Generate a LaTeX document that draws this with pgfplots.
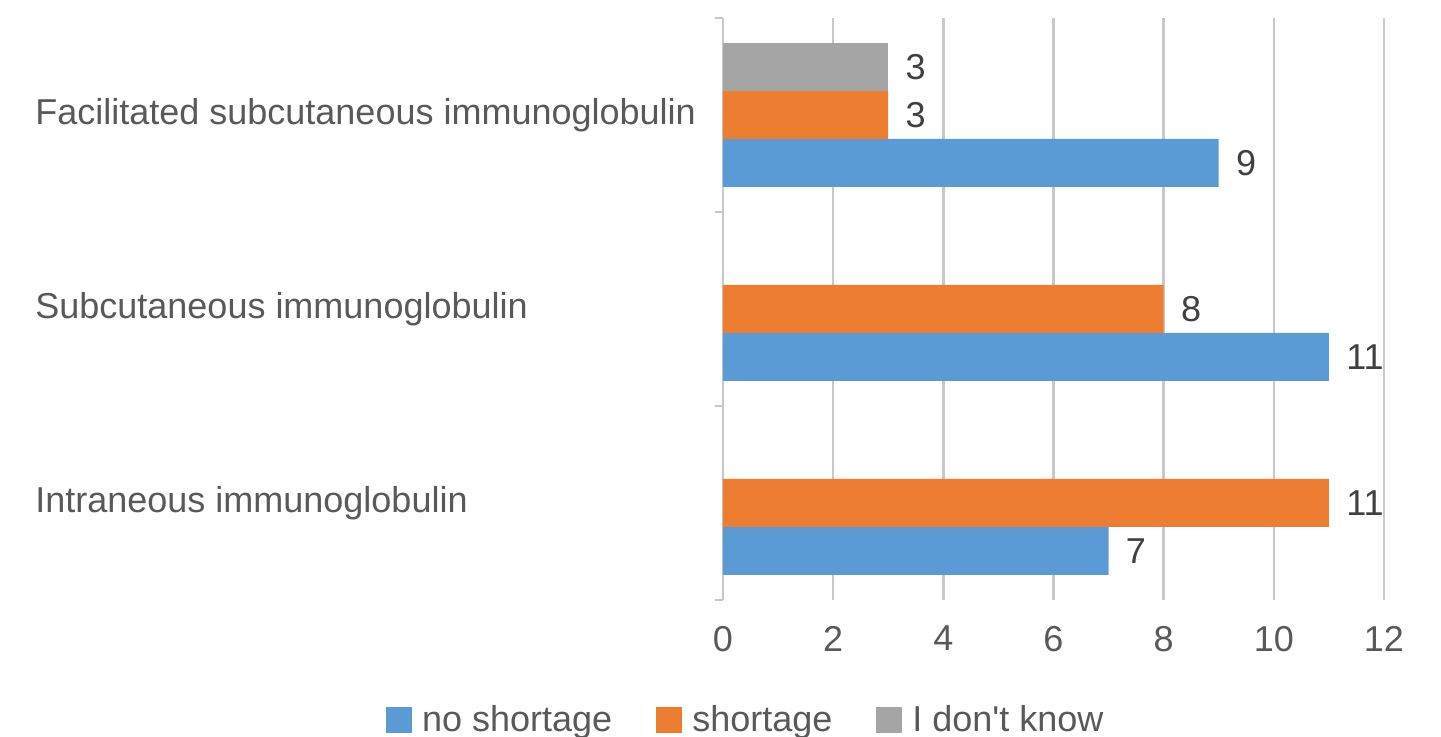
\documentclass[border=0pt]{standalone}
\usepackage{pgfplots}
\pgfplotsset{compat=1.18}
\usepackage{fontspec}
\setmainfont{Liberation Sans}
\definecolor{cblue}{HTML}{5B9BD5}
\definecolor{corange}{HTML}{ED7D31}
\definecolor{cgray}{HTML}{A5A5A5}
\definecolor{txt}{HTML}{595959}
\definecolor{valtxt}{HTML}{404040}
\definecolor{gridc}{HTML}{C8C8C8}
\newcommand{\chartfont}{\fontsize{18}{21.6}\selectfont}
\begin{document}
\begin{tikzpicture}
\useasboundingbox (-361.5pt,-68.5pt) rectangle (359pt,300pt);
\clip (-361.5pt,-68.5pt) rectangle (359pt,300pt);
\begin{axis}[
  at={(0pt,0pt)}, anchor=south west,
  scale only axis, width=330.5pt, height=291pt,
  xbar, bar width=24pt,
  xmin=0, xmax=12, ymin=-0.5, ymax=2.5,
  xtick={0,2,...,12},
  ytick={0,1,2},
  yticklabels={Intraneous immunoglobulin, Subcutaneous immunoglobulin, Facilitated subcutaneous immunoglobulin},
  minor ytick={-0.5,0.5,1.5,2.5},
  major tick length=0pt, minor tick length=4pt, tick align=outside,
  tick style={draw=gridc, line width=1.2pt},
  axis y line*=left, axis x line*=bottom,
  x axis line style={draw=none},
  y axis line style={draw=gridc, line width=1.2pt},
  xmajorgrids, major grid style={draw=gridc, line width=1.2pt},
  /pgf/number format/assume math mode=true,
  tick label style={font=\chartfont, color=txt},
  xticklabel style={yshift=-9.5pt},
  yticklabel style={anchor=west, xshift=-344pt, inner sep=0pt, align=left},
  nodes near coords,
  every node near coord/.append style={font=\chartfont, color=valtxt, inner sep=0pt, xshift=8.5pt},
  legend columns=3,
  legend style={at={(axis description cs:0.036,-0.206)}, anchor=center,
    draw=none, fill=none, font=\chartfont, text=txt,
    nodes={inner sep=2pt},
    /tikz/every odd column/.append style={column sep=3pt},
    /tikz/every even column/.append style={column sep=20pt}},
  legend image code/.code={\fill[#1] (0pt,-6.5pt) rectangle (13pt,6.5pt);},
]
\addplot[fill=cblue, draw=none, bar shift=-24pt] coordinates {(7,0) (11,1) (9,2)};
\addplot[fill=corange, draw=none, bar shift=0pt] coordinates {(11,0) (8,1) (3,2)};
\addplot[fill=cgray, draw=none, bar shift=24pt] coordinates {(3,2)};
\legend{no shortage, shortage, I don\textquotesingle t know}
\end{axis}
\end{tikzpicture}
\end{document}
